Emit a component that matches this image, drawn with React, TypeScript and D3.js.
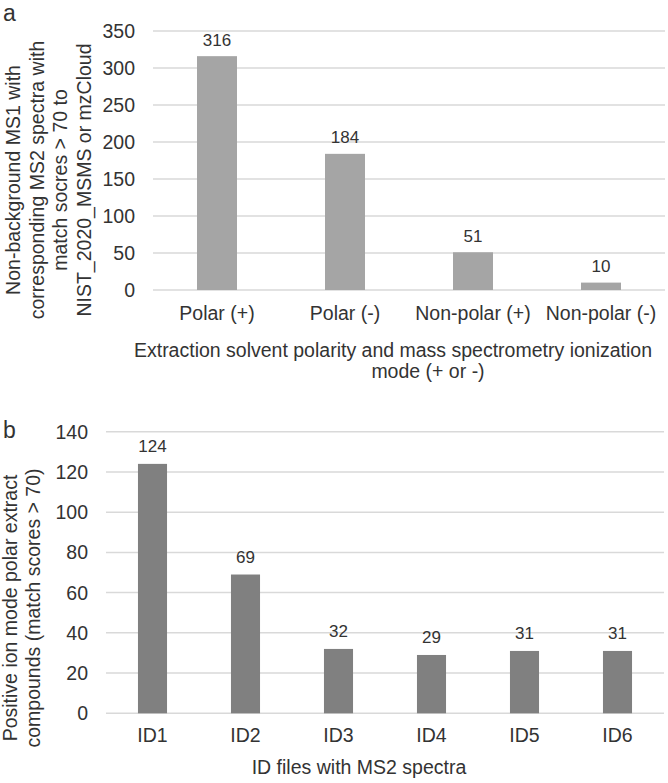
import React from "react";
import * as d3 from "d3";

const catsA = ["Polar (+)", "Polar (-)", "Non-polar (+)", "Non-polar (-)"];
const valsA = [316, 184, 51, 10];
const ticksA = [0, 50, 100, 150, 200, 250, 300, 350];
const yTitleA = [
  "Non-background MS1 with",
  "corresponding MS2 spectra with",
  "match socres > 70 to",
  "NIST_2020_MSMS or mzCloud",
];
const xTitleA = [
  "Extraction solvent polarity and mass spectrometry ionization",
  "mode (+ or -)",
];

const catsB = ["ID1", "ID2", "ID3", "ID4", "ID5", "ID6"];
const valsB = [124, 69, 32, 29, 31, 31];
const ticksB = [0, 20, 40, 60, 80, 100, 120, 140];
const yTitleB = ["Positive ion mode polar extract", "compounds (match scores > 70)"];
const xTitleB = ["ID files with MS2 spectra"];

const FONT = "Liberation Sans, Arial, sans-serif";
const TXT = "#333333";
const GRID = "#d9d9d9";

type PanelProps = {
  cats: string[];
  vals: number[];
  ticks: number[];
  yMax: number;
  x0: number;
  x1: number;
  yTop: number;
  yBot: number;
  color: string;
  tickRight: number;
  catBaseline: number;
  yTitle: string[];
  yTitleBaselines: number[];
  yTitleCenter: number;
  xTitle: string[];
  xTitleCenters: number[];
  xTitleBaselines: number[];
  letter: string;
  letterX: number;
  letterY: number;
  labelGap: number;
};

function Panel(p: PanelProps) {
  const x = d3.scaleBand<string>().domain(p.cats).range([p.x0, p.x1]).paddingInner(0.6875).paddingOuter(0.34375);
  const y = d3.scaleLinear().domain([0, p.yMax]).range([p.yBot, p.yTop]);
  return (
    <g fontFamily={FONT} fill={TXT}>
      <text x={p.letterX} y={p.letterY} fontSize={23}>{p.letter}</text>
      {p.ticks.map((t) => (
        <g key={"t" + t}>
          <line x1={p.x0} x2={p.x1} y1={y(t)} y2={y(t)} stroke={GRID} strokeWidth={1.5} />
          <text x={p.tickRight} y={y(t) + 7} fontSize={19.5} textAnchor="end">{t}</text>
        </g>
      ))}
      {p.cats.map((c, i) => (
        <g key={c}>
          <rect x={x(c)!} y={y(p.vals[i])} width={x.bandwidth()} height={y(0) - y(p.vals[i])} fill={p.color} />
          <text x={x(c)! + x.bandwidth() / 2} y={y(p.vals[i]) - p.labelGap} fontSize={17} textAnchor="middle">{p.vals[i]}</text>
          <text x={x(c)! + x.bandwidth() / 2} y={p.catBaseline} fontSize={19.5} textAnchor="middle">{c}</text>
        </g>
      ))}
      {p.yTitle.map((l, i) => (
        <text key={l} transform={`translate(${p.yTitleBaselines[i]},${p.yTitleCenter}) rotate(-90)`} fontSize={19.5} textAnchor="middle">{l}</text>
      ))}
      {p.xTitle.map((l, i) => (
        <text key={l} x={p.xTitleCenters[i]} y={p.xTitleBaselines[i]} fontSize={19.5} textAnchor="middle">{l}</text>
      ))}
    </g>
  );
}

export default function App() {
  return (
    <svg width={668} height={783} style={{ position: "absolute", left: 0, top: 0, background: "#fff" }}>
      <Panel
        cats={catsA}
        vals={valsA}
        ticks={ticksA}
        yMax={350}
        x0={153}
        x1={665}
        yTop={31}
        yBot={290}
        color="#a5a5a5"
        tickRight={135}
        catBaseline={320}
        yTitle={yTitleA}
        yTitleBaselines={[20, 43.5, 67, 90.5]}
        yTitleCenter={180}
        xTitle={xTitleA}
        xTitleCenters={[393, 428]}
        xTitleBaselines={[357, 378]}
        letter="a"
        letterX={3}
        letterY={21}
        labelGap={10.5}
      />
      <Panel
        cats={catsB}
        vals={valsB}
        ticks={ticksB}
        yMax={140}
        x0={106}
        x1={664}
        yTop={431.7}
        yBot={713.3}
        color="#808080"
        tickRight={88}
        catBaseline={741.5}
        yTitle={yTitleB}
        yTitleBaselines={[17, 40]}
        yTitleCenter={608}
        xTitle={xTitleB}
        xTitleCenters={[359]}
        xTitleBaselines={[774]}
        letter="b"
        letterX={3}
        letterY={438}
        labelGap={12}
      />
    </svg>
  );
}
